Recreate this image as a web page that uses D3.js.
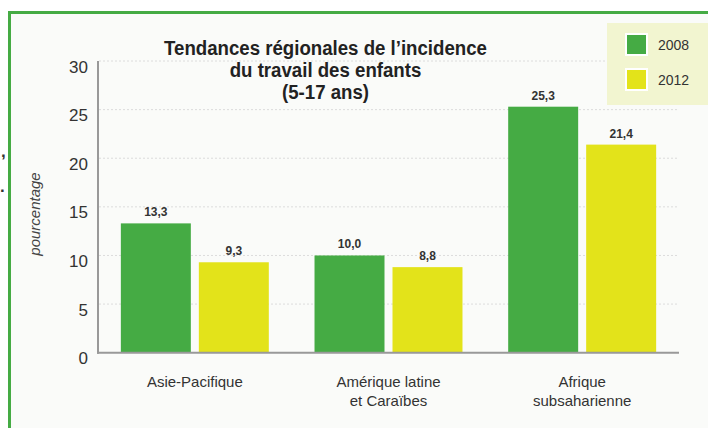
<!DOCTYPE html>
<html>
<head>
<meta charset="utf-8">
<script src="https://cdn.jsdelivr.net/npm/d3@7"></script>
<style>
  body { margin: 0; background: #fff; }
  svg { display: block; font-family: "Liberation Sans", Arial, sans-serif; }
</style>
</head>
<body>
<svg id="chart" width="708" height="428"></svg>
<script>
// data
const regions = ["Asie-Pacifique", "Amérique latine\net Caraïbes", "Afrique\nsubsaharienne"];
const years = ["2008", "2012"];
const values2008 = [13.3, 10.0, 25.3];
const values2012 = [9.3, 8.8, 21.4];
const yTicks = [0, 5, 10, 15, 20, 25, 30];
const titleLines = ["Tendances régionales de l’incidence", "du travail des enfants", "(5-17 ans)"];

const colors = { "2008": "#45ab44", "2012": "#e3e31a" };
const fmt = v => d3.format(".1f")(v).replace(".", ",");

const svg = d3.select("#chart");

// frame with green border
svg.append("rect").attr("x", 8).attr("y", 11).attr("width", 720).attr("height", 440)
  .attr("fill", "#fafbf9");
svg.append("path").attr("d", "M9.5,440 V12.5 H708")
  .attr("fill", "none").attr("stroke", "#45ab44").attr("stroke-width", 3);

// stray punctuation cut off at the left edge
svg.append("text").attr("x", 1).attr("y", 157).attr("fill", "#333")
  .style("font-size", "17px").style("font-weight", "bold").text(",");
svg.append("text").attr("x", 0).attr("y", 192).attr("fill", "#333")
  .style("font-size", "17px").style("font-weight", "bold").text(".");

// scales
const x0 = d3.scaleBand().domain(regions).range([98, 679]).paddingInner(0.236).paddingOuter(0.118);
const x1 = d3.scaleBand().domain(years).range([0, x0.bandwidth()]).paddingInner(8 / 78);
const y = d3.scaleLinear().domain([0, 30]).range([352.7, 61]);

// gridlines
svg.append("g").selectAll("line")
  .data(yTicks.filter(d => d > 0))
  .join("line")
  .attr("x1", 99).attr("x2", 679)
  .attr("y1", d => y(d)).attr("y2", d => y(d))
  .attr("stroke", "#dcdcdc").attr("stroke-width", 1)
  .attr("stroke-dasharray", "2,2");

// legend box
const legend = svg.append("g");
legend.append("rect").attr("x", 607).attr("y", 23).attr("width", 101).attr("height", 82)
  .attr("fill", "#f2f5d0");
years.forEach((yr, i) => {
  const ly = 34 + i * 35;
  legend.append("rect").attr("x", 626).attr("y", ly).attr("width", 21).attr("height", 21)
    .attr("fill", colors[yr]).attr("stroke", "#fff").attr("stroke-width", 2);
  legend.append("text").attr("x", 658).attr("y", ly + 11).attr("dy", "0.35em")
    .attr("fill", "#333").style("font-size", "14px").text(yr);
});

// y axis
const yAxis = svg.append("g").attr("transform", "translate(98,0)")
  .call(d3.axisLeft(y).tickValues(yTicks).tickSize(0).tickPadding(10));
yAxis.select(".domain").remove();
yAxis.selectAll("text")
  .attr("dy", "0.65em")
  .attr("fill", "#333")
  .style("font-size", "17px")
  .style("font-family", "'Liberation Sans', Arial, sans-serif");

// bars
const groups = svg.append("g").selectAll("g")
  .data(regions.map((r, i) => ({ region: r, vals: [values2008[i], values2012[i]] })))
  .join("g")
  .attr("transform", d => `translate(${x0(d.region)},0)`);

groups.selectAll("rect")
  .data(d => d.vals.map((v, j) => ({ year: years[j], value: v })))
  .join("rect")
  .attr("x", d => x1(d.year))
  .attr("y", d => y(d.value))
  .attr("width", x1.bandwidth())
  .attr("height", d => y(0) - y(d.value))
  .attr("fill", d => colors[d.year]);

groups.selectAll("text.val")
  .data(d => d.vals.map((v, j) => ({ year: years[j], value: v })))
  .join("text")
  .attr("class", "val")
  .attr("x", d => x1(d.year) + x1.bandwidth() / 2)
  .attr("y", d => y(d.value) - 7)
  .attr("text-anchor", "middle")
  .attr("fill", "#333")
  .style("font-size", "12px")
  .style("font-weight", "bold")
  .text(d => fmt(d.value));

// axis lines
svg.append("line").attr("x1", 98).attr("x2", 98).attr("y1", 61).attr("y2", 353.7)
  .attr("stroke", "#999").attr("stroke-width", 2);
svg.append("line").attr("x1", 97).attr("x2", 679).attr("y1", 352.7).attr("y2", 352.7)
  .attr("stroke", "#999").attr("stroke-width", 2);

// category labels
regions.forEach(r => {
  const t = svg.append("text")
    .attr("x", x0(r) + x0.bandwidth() / 2)
    .attr("y", 387)
    .attr("text-anchor", "middle")
    .attr("fill", "#333")
    .style("font-size", "15px");
  r.split("\n").forEach((line, i) => {
    t.append("tspan").attr("x", x0(r) + x0.bandwidth() / 2).attr("dy", i ? 19 : 0).text(line);
  });
});

// y axis title
svg.append("text")
  .attr("transform", "translate(40,214) rotate(-90)")
  .attr("text-anchor", "middle")
  .attr("fill", "#444")
  .style("font-size", "15px")
  .style("font-style", "italic")
  .text("pourcentage");

// chart title, squeezed horizontally to mimic a condensed face
const titleX = 325.5;
const titleG = svg.append("g");
const titleTexts = titleLines.map((line, i) => titleG.append("text")
  .attr("x", 0)
  .attr("y", 55 + i * 22)
  .attr("text-anchor", "middle")
  .attr("fill", "#222")
  .style("font-weight", "bold")
  .style("font-size", "21px")
  .text(line));
const squeeze = 323 / titleTexts[0].node().getComputedTextLength();
titleG.attr("transform", `translate(${titleX},0) scale(${squeeze},1)`);
</script>
</body>
</html>
